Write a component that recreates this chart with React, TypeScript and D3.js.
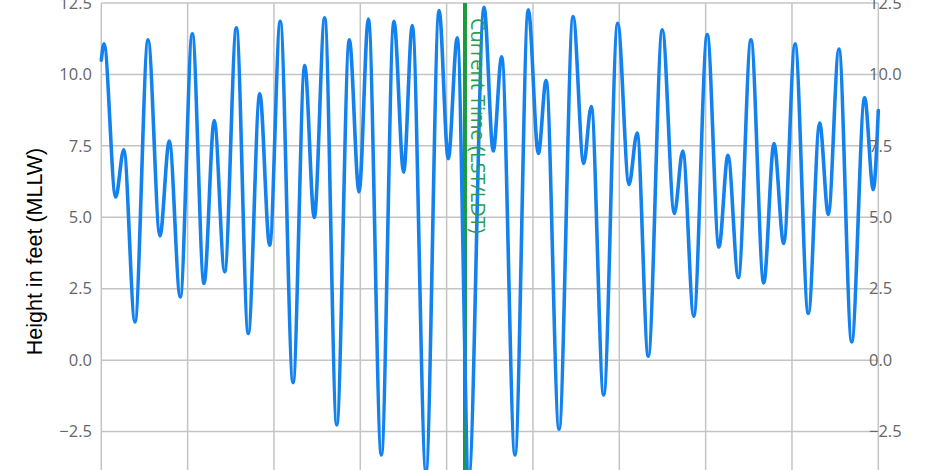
import React from "react";
import * as d3 from "d3";

// Tide extremes (hours from chart start) and heights in feet (MLLW)
const hours = [
  0.0, 1.5, 8.0, 12.5, 18.7, 26.0, 32.6, 37.8, 43.9, 50.6, 57.1, 62.8, 68.6, 75.1, 81.7, 88.1,
  93.6, 99.5, 106.6, 113.1, 118.4, 124.2, 130.9, 137.9, 143.3, 148.5, 155.7, 162.7, 168.1, 172.9,
  180.5, 187.8, 192.9, 197.9, 204.4, 212.8, 217.9, 222.6, 230.0, 237.4, 243.0, 247.3, 254.5,
  262.3, 268.2, 272.4, 279.3, 287.1, 293.4, 297.9, 304.1, 311.9, 318.6, 323.3, 329.4, 336.9,
  343.4, 348.4, 354.2, 361.2, 368.3, 374.0, 379.4, 385.7, 393.1, 399.4, 404.2, 410.1, 417.2,
  424.4, 429.2, 432.0,
];
const heights = [
  10.5, 11.07, 5.71, 7.36, 1.34, 11.21, 4.35, 7.67, 2.21, 11.42, 2.68, 8.39, 3.09, 11.63, 0.93, 9.32,
  4.02, 11.86, -0.79, 10.31, 4.99, 11.98, -2.27, 11.21, 5.89, 11.94, -3.32, 11.86, 6.58, 11.71,
  -3.9, 12.24, 7.05, 11.28, -4.0, 12.35, 7.32, 10.62, -3.32, 12.26, 7.23, 9.79, -2.42,
  12.03, 6.88, 8.88, -1.22, 11.79, 6.15, 7.95, 0.14, 11.56, 5.13, 7.32, 1.54, 11.4,
  3.96, 7.17, 2.89, 11.21, 2.7, 7.58, 4.08, 11.07, 1.63, 8.3, 5.1, 10.89, 0.64,
  9.18, 5.97, 8.74,
];
const yTicks = [-5, -2.5, 0, 2.5, 5, 7.5, 10, 12.5];
const yLabelTicks = [-2.5, 0, 2.5, 5, 7.5, 10, 12.5];
const xGridHours = [0, 48, 96, 144, 192, 240, 288, 336, 384, 432];
const currentTimeHour = 202.2;
const yTitle = "Height in feet (MLLW)";
const currentLabel = "Current Time (LST/LDT)";

export default function App() {
  const W = 932;
  const H = 470;
  const left = 101.3;
  const right = 878.3;
  const top = 3;
  const bottom = 503;

  const x = d3.scaleLinear().domain([0, 432]).range([left, right]);
  const y = d3.scaleLinear().domain([-5, 12.5]).range([bottom, top]);

  const data = hours.map((h, i) => [h, heights[i]] as [number, number]);
  const line = d3
    .line<[number, number]>()
    .x((d) => x(d[0]))
    .y((d) => y(d[1]))
    .curve(d3.curveMonotoneX);

  const gridColor = "#c4c4c4";
  const labelFont = "'Open Sans', 'DejaVu Sans', sans-serif";
  const green = "#1c9a3e";
  const fmt = (t: number) => d3.format(".1f")(t).replace("-", "\u2212");

  return (
    <svg
      width={W}
      height={H}
      style={{ position: "absolute", left: 0, top: 0, background: "#fff" }}
    >
      <rect x={0} y={0} width={W} height={H} fill="#fff" />
      {yTicks.map((t) => (
        <line
          key={"h" + t}
          x1={left}
          x2={right}
          y1={y(t)}
          y2={y(t)}
          stroke={gridColor}
          strokeWidth={1.5}
        />
      ))}
      {xGridHours.map((h) => (
        <line
          key={"v" + h}
          x1={x(h)}
          x2={x(h)}
          y1={top}
          y2={bottom}
          stroke={gridColor}
          strokeWidth={1.5}
        />
      ))}
      <line
        x1={x(currentTimeHour)}
        x2={x(currentTimeHour)}
        y1={top}
        y2={bottom}
        stroke={green}
        strokeWidth={4}
      />
      <path
        d={line(data) || ""}
        fill="none"
        stroke="#1482ee"
        strokeWidth={3.6}
        strokeLinejoin="round"
        strokeLinecap="round"
      />
      <text
        transform={`translate(${x(currentTimeHour) + 6},18) rotate(90)`}
        fill="#25a050"
        fontFamily={labelFont}
        fontSize={20}
      >
        {currentLabel}
      </text>
      {yLabelTicks.map((t) => (
        <text
          key={"l" + t}
          x={92}
          y={y(t)}
          dy="0.35em"
          textAnchor="end"
          fill="#666"
          fontFamily={labelFont}
          fontSize={16.5}
        >
          {fmt(t)}
        </text>
      ))}
      {yLabelTicks.map((t) => (
        <text
          key={"r" + t}
          x={869}
          y={y(t)}
          dy="0.35em"
          textAnchor="start"
          fill="#666"
          fontFamily={labelFont}
          fontSize={16.5}
        >
          {fmt(t)}
        </text>
      ))}
      <text
        transform={`translate(42,${(143 + 360) / 2}) rotate(-90)`}
        textAnchor="middle"
        fill="#000"
        fontFamily="'Liberation Sans', Arial, sans-serif"
        fontSize={21.5}
      >
        {yTitle}
      </text>
    </svg>
  );
}
